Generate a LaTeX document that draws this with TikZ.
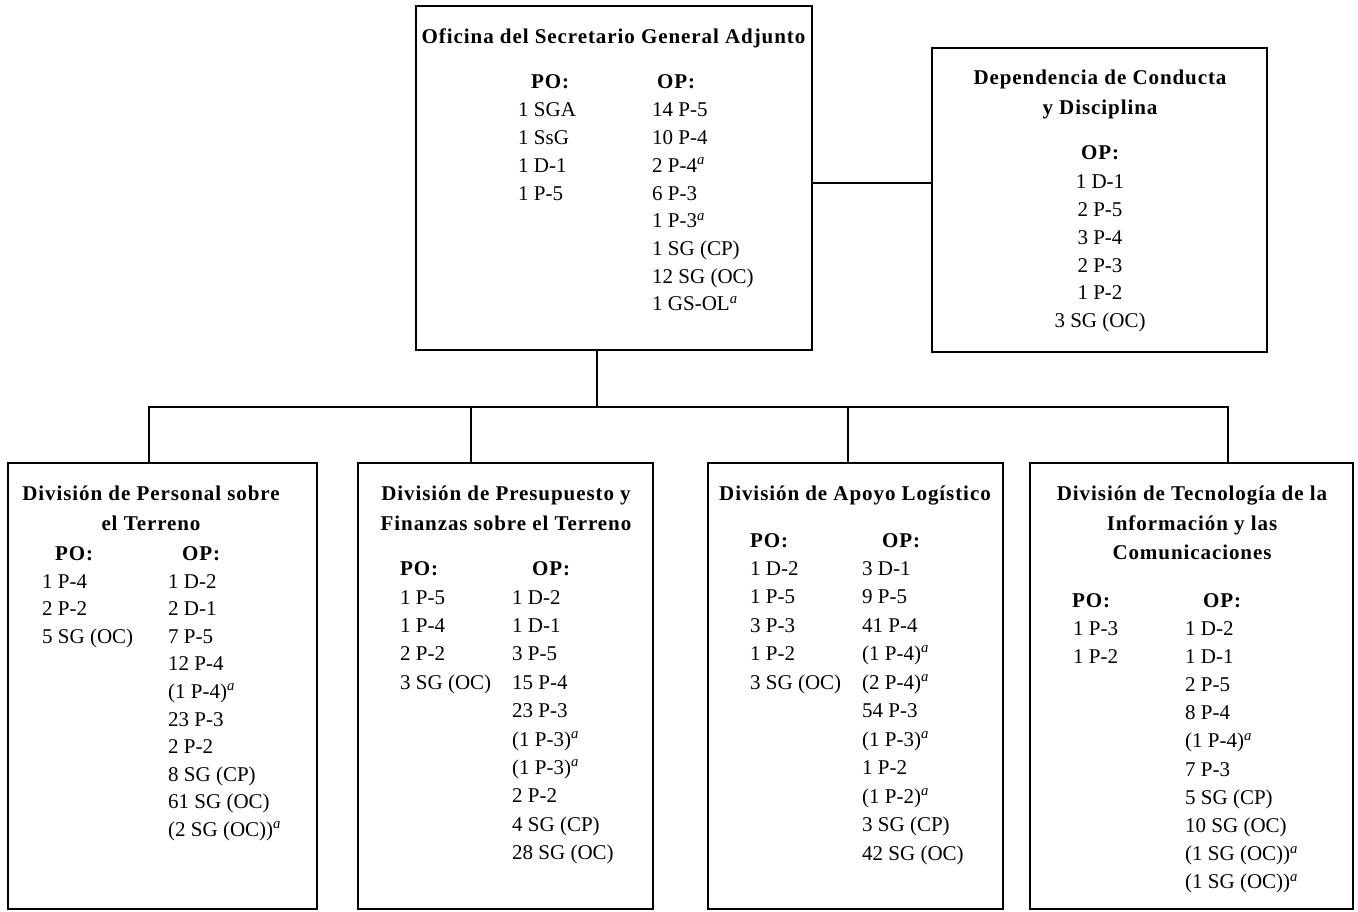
\documentclass[tikz,border=0pt]{standalone}
\usepackage{fontspec}
\setmainfont{Liberation Serif}
\newfontfamily\bodyfont{Liberation Serif}
\newfontfamily\ttlfont[LetterSpace=4.4]{Liberation Serif}
\newcommand\supa{\textsuperscript{\textit{a}}}
\tikzset{
  box/.style={draw, line width=1.6pt, inner sep=0pt},
  conn/.style={line width=1.4pt},
  item/.style={anchor=base west, inner sep=0pt, font={\bodyfont\fontsize{21}{24}\selectfont}},
  citem/.style={anchor=base, inner sep=0pt, font={\bodyfont\fontsize{21}{24}\selectfont}},
  ttl/.style={anchor=base, inner sep=0pt, font={\ttlfont\bfseries\fontsize{21}{24}\selectfont}},
  hdr/.style={anchor=base west, inner sep=0pt, font={\ttlfont\bfseries\fontsize{21}{24}\selectfont}}
}
\newcommand\colitems[5]{%
  \foreach \t [count=\i from 0] in {#5} {\node[item] (#1\i) at (#2,#3+7+\i*#4) {\t};}}
\newcommand\colitemsc[5]{%
  \foreach \t [count=\i from 0] in {#5} {\node[citem] (#1\i) at (#2,#3+7+\i*#4) {\t};}}
\begin{document}
\begin{tikzpicture}[x=1pt,y=-1pt]
\useasboundingbox (0,0) rectangle (1358,912);
% boxes
\node[box, minimum width=396pt, minimum height=344pt] (osg) at (614,178) {};
\node[box, minimum width=335pt, minimum height=304pt] (dcd) at (1099.5,200) {};
\node[box, minimum width=309pt, minimum height=446pt] (b1) at (162.5,686) {};
\node[box, minimum width=295pt, minimum height=446pt] (b2) at (505.5,686) {};
\node[box, minimum width=295pt, minimum height=446pt] (b3) at (855.5,686) {};
\node[box, minimum width=323pt, minimum height=446pt] (b4) at (1191.5,686) {};
% connectors
\coordinate (hub) at (597,407);
\coordinate (ry) at (0,183);
\coordinate (d1) at (149,407);
\coordinate (d2) at (471,407);
\coordinate (d3) at (848,407);
\coordinate (d4) at (1228,407);
\draw[conn] (osg.south -| hub) -- (hub);
\draw[conn] (osg.east |- ry) -- (dcd.west |- ry);
\draw[conn] (d1 |- b1.north) -- (d1) -- (d4) -- (d4 |- b4.north);
\draw[conn] (d2) -- (d2 |- b2.north);
\draw[conn] (d3) -- (d3 |- b3.north);
% top box
\node[ttl] (t0) at (613.5,44) {Oficina del Secretario General Adjunto};
\node[hdr] (t0po) at (531,89) {PO:};
\node[hdr] (t0op) at (657,89) {OP:};
\colitems{apo}{518}{110}{27.7}{1 SGA,1 SsG,1 D-1,1 P-5}
\colitems{aop}{652}{110}{27.7}{14 P-5,10 P-4,2 P-4\supa,6 P-3,1 P-3\supa,1 SG (CP),12 SG (OC),1 GS-OL\supa}
% right box
\node[ttl] (tr1) at (1100,85) {Dependencia de Conducta};
\node[ttl] (tr2) at (1100,115) {y Disciplina};
\node[ttl] (trop) at (1100,160) {OP:};
\colitemsc{dop}{1100}{182}{27.7}{1 D-1,2 P-5,3 P-4,2 P-3,1 P-2,3 SG (OC)}
% box 1
\node[ttl] (t11) at (151,500) {División de Personal sobre};
\node[ttl] (t12) at (151,530) {el Terreno};
\node[hdr] (t1po) at (55,560) {PO:};
\node[hdr] (t1op) at (182,560) {OP:};
\colitems{epo}{42}{581}{27.6}{1 P-4,2 P-2,5 SG (OC)}
\colitems{eop}{168}{581}{27.6}{1 D-2,2 D-1,7 P-5,12 P-4,(1 P-4)\supa,23 P-3,2 P-2,8 SG (CP),61 SG (OC),(2 SG (OC))\supa}
% box 2
\node[ttl] (t21) at (506,500) {División de Presupuesto y};
\node[ttl] (t22) at (506,530) {Finanzas sobre el Terreno};
\node[hdr] (t2po) at (400,575) {PO:};
\node[hdr] (t2op) at (532,575) {OP:};
\colitems{fpo}{400}{597}{28.4}{1 P-5,1 P-4,2 P-2,3 SG (OC)}
\colitems{fop}{512}{597}{28.4}{1 D-2,1 D-1,3 P-5,15 P-4,23 P-3,(1 P-3)\supa,(1 P-3)\supa,2 P-2,4 SG (CP),28 SG (OC)}
% box 3
\node[ttl] (t31) at (855,500) {División de Apoyo Logístico};
\node[hdr] (t3po) at (750,547) {PO:};
\node[hdr] (t3op) at (882,547) {OP:};
\colitems{gpo}{750}{568}{28.5}{1 D-2,1 P-5,3 P-3,1 P-2,3 SG (OC)}
\colitems{gop}{862}{568}{28.5}{3 D-1,9 P-5,41 P-4,(1 P-4)\supa,(2 P-4)\supa,54 P-3,(1 P-3)\supa,1 P-2,(1 P-2)\supa,3 SG (CP),42 SG (OC)}
% box 4
\node[ttl] (t41) at (1192,500) {División de Tecnología de la};
\node[ttl] (t42) at (1192,530) {Información y las};
\node[ttl] (t43) at (1192,559) {Comunicaciones};
\node[hdr] (t4po) at (1072,607) {PO:};
\node[hdr] (t4op) at (1203,607) {OP:};
\colitems{hpo}{1073}{628}{28.2}{1 P-3,1 P-2}
\colitems{hop}{1185}{628}{28.2}{1 D-2,1 D-1,2 P-5,8 P-4,(1 P-4)\supa,7 P-3,5 SG (CP),10 SG (OC),(1 SG (OC))\supa,(1 SG (OC))\supa}
\end{tikzpicture}
\end{document}
